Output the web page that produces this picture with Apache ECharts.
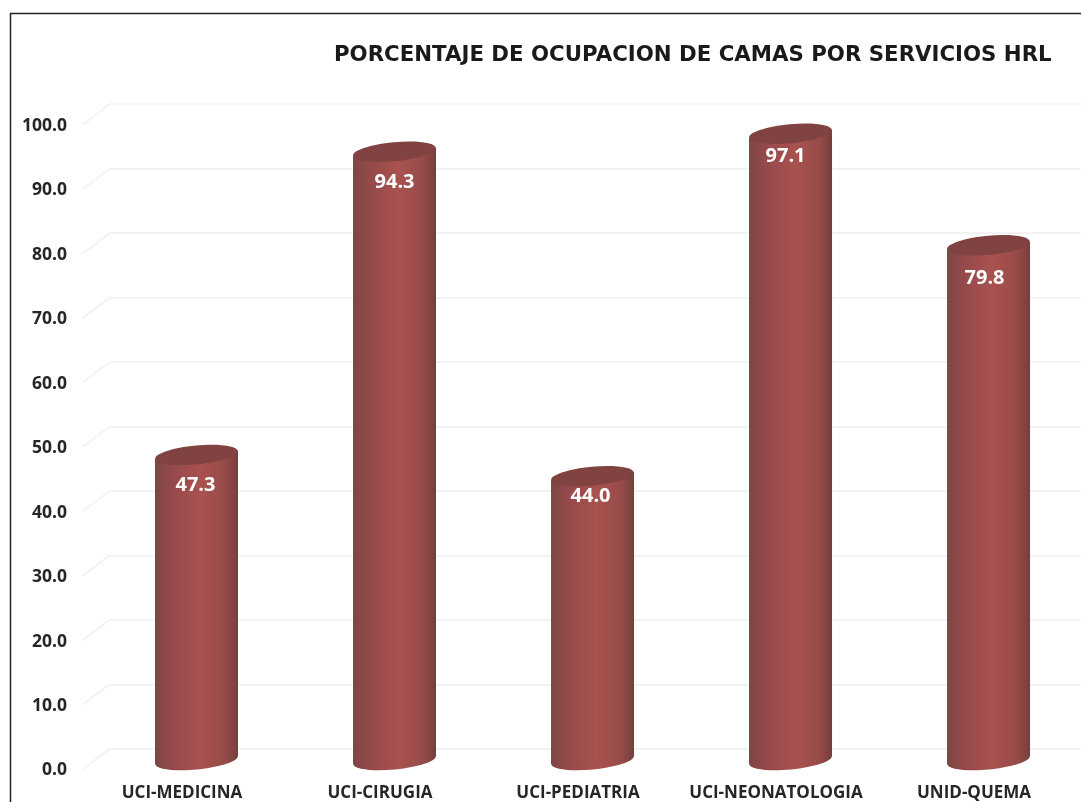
<!DOCTYPE html>
<html><head><meta charset="utf-8">
<style>html,body{margin:0;padding:0;background:#fff}#c{width:1081px;height:802px;filter:blur(.5px)}</style>
<script src="https://cdn.jsdelivr.net/npm/echarts@6/dist/echarts.min.js"></script>
</head><body><div id="c"></div>
<script>
const categories = ['UCI-MEDICINA','UCI-CIRUGIA','UCI-PEDIATRIA','UCI-NEONATOLOGIA','UNID-QUEMA'];
const occupancy = [47.3,94.3,44.0,97.1,79.8];
const yTicks = [0,10,20,30,40,50,60,70,80,90,100];
const titleText = 'PORCENTAJE DE OCUPACION DE CAMAS POR SERVICIOS HRL';
// hand-placed label nudges of the original (pixels from the cylinder's top centre)
const labelNudgeX = [-1,0,-2,-5,-4];
const labelNudgeY = [30,31,20,23,33];

const chart = echarts.init(document.getElementById('c'));
const bodyFill = new echarts.graphic.LinearGradient(0,0,1,0,[
  {offset:0,color:'#7c4644'},{offset:0.2,color:'#95494a'},{offset:0.55,color:'#a9524f'},
  {offset:0.85,color:'#964b48'},{offset:1,color:'#743f3d'}]);
const H = 645;
chart.setOption({
  animation:false,
  backgroundColor:'#fff',
  title:{text:titleText,left:329,top:40,textStyle:{fontFamily:'DejaVu Sans',fontSize:21.3,fontWeight:'bold',color:'#1a1a1a'}},
  graphic:[{type:'rect',silent:true,z:100,shape:{x:10.5,y:13.5,width:1200,height:900},style:{fill:'none',stroke:'#222',lineWidth:1.5}}],
  grid:[
    {left:110,top:104,width:971,height:H},
    {left:83,top:126,width:990,height:H},
    {left:97.5,top:115,width:983.5,height:H}
  ],
  xAxis:[
    {gridIndex:0,type:'category',data:categories,show:false},
    {gridIndex:1,type:'category',data:categories,axisLine:{show:false},axisTick:{show:false},
     axisLabel:{margin:14.5,interval:0,fontFamily:'Open Sans',fontSize:17,fontWeight:'bold',color:'#262626'}},
    {gridIndex:2,type:'value',min:-0.5,max:4.467,show:false,splitLine:{show:false}}
  ],
  yAxis:[
    {gridIndex:0,type:'value',min:0,max:100,interval:10,axisLine:{show:false},axisTick:{show:false},axisLabel:{show:false},
     splitLine:{show:true,lineStyle:{color:'#f3f3f3',width:2}}},
    {gridIndex:1,type:'value',min:0,max:100,interval:10,axisLine:{show:false},axisTick:{show:false},splitLine:{show:false},
     axisLabel:{margin:16,formatter:v=>v.toFixed(1),fontFamily:'Open Sans',fontSize:17.5,fontWeight:'bold',color:'#262626'}},
    {gridIndex:2,type:'value',min:0,max:100,interval:10,show:false,splitLine:{show:false}}
  ],
  series:[
    {type:'custom',xAxisIndex:1,yAxisIndex:1,z:1,silent:true,clip:false,data:yTicks.map(v=>[0,v]),
     renderItem(params,api){
       const y=api.coord([0,api.value(1)])[1]-1.5, x=params.coordSys.x;
       return {type:'line',shape:{x1:x,y1:y,x2:x+27,y2:y-20.5},style:{stroke:'#f3f3f3',lineWidth:2}};
     }},
    {type:'custom',xAxisIndex:2,yAxisIndex:2,z:5,silent:true,clip:false,
     data:occupancy.map((v,i)=>[i,v]),
     renderItem(params,api){
       const i=api.value(0), v=api.value(1);
       const top=api.coord([i,v]), base=api.coord([i,0]);
       const cx=top[0], w=83, rx=w/2, ry=9.5, dy=3.9, rot=0.094;
       return {type:'group',children:[
         {type:'ellipse',shape:{cx:0,cy:0,rx,ry},x:cx,y:base[1],rotation:rot,style:{fill:bodyFill}},
         {type:'polygon',shape:{points:[[cx-rx,top[1]+dy],[cx+rx,top[1]-dy],[cx+rx,base[1]-dy],[cx-rx,base[1]+dy]]},style:{fill:bodyFill}},
         {type:'ellipse',shape:{cx:0,cy:0,rx,ry},x:cx,y:top[1],rotation:rot,style:{fill:'#804341'}},
         {type:'text',x:cx+labelNudgeX[i],y:top[1]+labelNudgeY[i],style:{text:v.toFixed(1),align:'center',verticalAlign:'middle',
           fontFamily:'Open Sans',fontSize:20,fontWeight:'bold',fill:'#fff'}}
       ]};
     }}
  ]
});
</script></body></html>
